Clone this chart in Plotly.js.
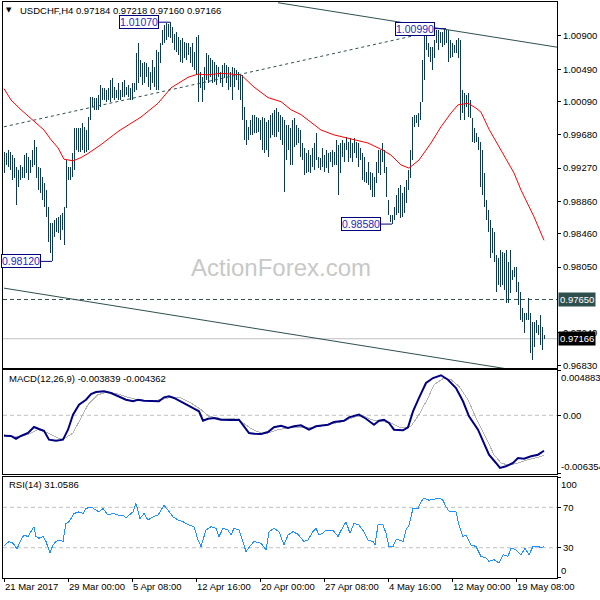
<!DOCTYPE html>
<html><head><meta charset="utf-8">
<script src="https://cdn.plot.ly/plotly-3.0.1.min.js"></script>
<style>html,body{margin:0;padding:0;background:#fff}#chart{width:600px;height:600px}
#chart .scatterlayer .trace:first-child path{shape-rendering:crispEdges !important}</style>
</head><body><div id="chart"></div>
<script>
// ---- data (bar index = H4 bar number) ----
const barHigh = [
0.9947,0.9946,0.9949,0.9947,0.9943,0.9940,0.9928,0.9925,0.9931,0.9928,
0.9943,0.9946,0.9941,0.9937,0.9949,0.9962,0.9953,0.9928,0.9927,0.9916,
0.9909,0.9900,0.9879,0.9859,0.9859,0.9863,0.9866,0.9867,0.9869,0.9872,
0.9879,0.9937,0.9928,0.9928,0.9946,0.9976,0.9976,0.9976,0.9976,0.9983,
0.9978,0.9974,0.9990,1.0015,1.0015,1.0013,1.0013,1.0017,1.0030,1.0026,
1.0026,1.0023,1.0026,1.0036,1.0038,1.0027,1.0023,1.0032,1.0023,1.0033,
1.0036,1.0027,1.0030,1.0026,1.0032,1.0032,1.0069,1.0081,1.0060,1.0057,
1.0058,1.0057,1.0052,1.0046,1.0060,1.0052,1.0073,1.0070,1.0081,1.0097,
1.0104,1.0106,1.0105,1.0107,1.0101,1.0093,1.0095,1.0089,1.0085,1.0088,
1.0083,1.0081,1.0081,1.0076,1.0081,1.0070,1.0089,1.0091,1.0046,1.0039,
1.0052,1.0069,1.0067,1.0063,1.0060,1.0058,1.0054,1.0052,1.0046,1.0054,
1.0057,1.0054,1.0052,1.0046,1.0052,1.0051,1.0048,1.0046,1.0042,1.0042,
1.0002,0.9986,0.9978,0.9986,0.9993,0.9993,0.9990,0.9989,0.9986,0.9990,
0.9989,0.9984,0.9986,0.9993,0.9995,0.9999,1.0001,0.9996,0.9993,0.9990,
0.9986,0.9980,0.9980,0.9976,0.9986,0.9989,0.9980,0.9976,0.9974,0.9958,
0.9952,0.9946,0.9949,0.9943,0.9952,0.9958,0.9970,0.9941,0.9940,0.9952,
0.9943,0.9949,0.9946,0.9947,0.9949,0.9947,0.9962,0.9956,0.9958,0.9962,
0.9958,0.9965,0.9959,0.9964,0.9958,0.9964,0.9959,0.9958,0.9952,0.9946,
0.9941,0.9922,0.9935,0.9922,0.9921,0.9916,0.9934,0.9949,0.9949,0.9958,
0.9949,0.9928,0.9888,0.9869,0.9869,0.9879,0.9894,0.9903,0.9906,0.9896,
0.9904,0.9912,0.9925,0.9949,0.9990,0.9993,0.9993,0.9995,1.0009,1.0060,
1.0094,1.0095,1.0081,1.0076,1.0076,1.0085,1.0097,1.0097,1.0095,1.0095,
1.0099,1.0099,1.0097,1.0085,1.0081,1.0079,1.0085,1.0088,1.0085,1.0023,
1.0020,1.0017,1.0020,1.0011,0.9989,0.9976,0.9970,0.9965,0.9959,0.9949,
0.9921,0.9888,0.9875,0.9863,0.9853,0.9848,0.9820,0.9816,0.9826,0.9824,
0.9822,0.9826,0.9811,0.9826,0.9801,0.9805,0.9805,0.9787,0.9774,0.9755,
0.9748,0.9748,0.9767,0.9748,0.9737,0.9737,0.9740,0.9733,0.9746,0.9731,
0.97218];
const barLow = [
0.9921,0.9931,0.9929,0.9925,0.9912,0.9915,0.9882,0.9904,0.9912,0.9915,
0.9915,0.9921,0.9912,0.9921,0.9928,0.9931,0.9915,0.9900,0.9896,0.9888,
0.9879,0.9867,0.9836,0.9822,0.9812,0.9842,0.9848,0.9847,0.9838,0.9851,
0.9832,0.9878,0.9912,0.9912,0.9916,0.9925,0.9949,0.9947,0.9947,0.9949,
0.9946,0.9947,0.9949,0.9986,1.0002,0.9999,0.9999,0.9999,1.0002,1.0011,
1.0011,1.0009,1.0011,1.0009,1.0013,1.0011,1.0013,1.0011,1.0011,1.0015,
1.0015,1.0017,1.0015,1.0011,1.0011,1.0021,1.0023,1.0032,1.0039,1.0030,
1.0032,1.0039,1.0027,1.0023,1.0032,1.0027,1.0023,1.0023,1.0057,1.0079,
1.0081,1.0085,1.0089,1.0088,1.0081,1.0073,1.0070,1.0067,1.0058,1.0057,
1.0063,1.0060,1.0067,1.0057,1.0052,1.0048,1.0042,1.0009,1.0026,1.0009,
1.0023,1.0036,1.0032,1.0039,1.0032,1.0033,1.0030,1.0039,1.0032,1.0027,
1.0038,1.0032,1.0023,1.0027,1.0011,1.0027,1.0036,1.0023,1.0011,0.9986,
0.9962,0.9956,0.9962,0.9968,0.9968,0.9970,0.9970,0.9972,0.9962,0.9949,
0.9946,0.9949,0.9941,0.9964,0.9968,0.9965,0.9965,0.9972,0.9962,0.9956,
0.9898,0.9937,0.9949,0.9931,0.9931,0.9953,0.9956,0.9958,0.9941,0.9937,
0.9918,0.9921,0.9922,0.9921,0.9928,0.9925,0.9937,0.9927,0.9925,0.9928,
0.9922,0.9927,0.9921,0.9934,0.9928,0.9931,0.9931,0.9894,0.9921,0.9941,
0.9935,0.9949,0.9934,0.9940,0.9934,0.9946,0.9940,0.9928,0.9937,0.9912,
0.9910,0.9909,0.9906,0.9900,0.9891,0.9891,0.9909,0.9921,0.9918,0.9935,
0.9921,0.9891,0.9869,0.9861,0.9858,0.9863,0.9869,0.9872,0.9865,0.9867,
0.9872,0.9884,0.9900,0.9915,0.9937,0.9978,0.9983,0.9978,0.9986,1.0008,
1.0036,1.0073,1.0064,1.0058,1.0048,1.0063,1.0081,1.0073,1.0081,1.0076,
1.0079,1.0081,1.0058,1.0063,1.0064,1.0069,1.0069,1.0063,0.9986,0.9995,
0.9986,1.0002,0.9990,0.9989,0.9959,0.9958,0.9959,0.9949,0.9904,0.9894,
0.9879,0.9863,0.9848,0.9816,0.9822,0.9811,0.9774,0.9783,0.9781,0.9783,
0.9777,0.9761,0.9761,0.9773,0.9789,0.9793,0.9774,0.9758,0.9740,0.9737,
0.9724,0.9740,0.9740,0.9699,0.9690,0.9706,0.9724,0.9721,0.9709,0.9703,
0.97160];

const maIdx = [0,3.5,8.5,15,20,23.5,27,30,34.5,38.5,42,48.5,53.5,57.5,68.5,77,83.5,92,97,102,
108.5,115,118.5,125,132,138.5,143.5,148.5,158.5,165,173.5,182,189.5,193.5,198.5,202.5,207.5,213.5,218.5,223.5,
227,232,236,238.5,242.5,248.5,255,258.5,265,270];
const maVal = [1.0025,1.0011,0.9999,0.9985,0.9974,0.9962,0.9952,0.9938,0.9936,0.9940,0.9945,0.9956,0.9966,0.9973,0.9990,1.0007,1.0026,1.0039,1.0043,1.0042,
1.0044,1.0043,1.0042,1.0027,1.0014,1.0009,0.9999,0.9993,0.9974,0.9968,0.9963,0.9958,0.9949,0.9943,0.9931,0.9927,0.9937,0.9958,0.9978,0.9995,
1.0005,1.0007,1.0001,0.9996,0.9975,0.9949,0.9921,0.9900,0.9867,0.9838];

const macdIdx = [0,3.5,6,8.5,12,15,17.5,20,22.5,26,29.5,32,34.5,37.5,41,43.5,46,50,53.5,57,
61,64.5,67,70,75,77.5,80,82.5,85,88.5,92,95,97.5,99.5,102,105,108.5,113.5,117.5,120,
122.5,125,128.5,132,135,138.5,142,145,148.5,152.5,156,162,165,170,172.5,177.5,181,185,187.5,190,
192.5,195,199.5,202,204.5,207.5,211,214.5,218.5,222,226,229.5,232.5,237,240,242.5,246,248,251,254.5,
257,260,263.5,267,270];
const macdVal = [-0.00221,-0.00224,-0.00254,-0.00224,-0.00192,-0.00127,-0.00149,-0.00167,-0.00264,-0.00275,
-0.00264,-0.00156,0.00007,0.00115,0.00169,0.00231,0.00253,0.00260,0.00242,0.00206,
0.00169,0.00152,0.00169,0.00158,0.00152,0.00152,0.00195,0.00206,0.00188,0.00152,
0.00108,0.00072,0.00043,-0.00059,-0.00037,-0.00029,-0.00048,-0.00051,-0.00048,-0.00119,
-0.00192,-0.00199,-0.00203,-0.00181,-0.00130,-0.00113,-0.00138,-0.00119,-0.00108,-0.00156,
-0.00119,-0.00102,-0.00073,-0.00059,-0.00022,0.00007,-0.00037,-0.00102,-0.00059,-0.00048,
-0.00083,-0.00156,-0.00163,-0.00130,0.00043,0.00188,0.00350,0.00404,0.00434,0.00386,
0.00296,0.00152,-0.00011,-0.00156,-0.00300,-0.00427,-0.00517,-0.00571,-0.00553,-0.00517,
-0.00463,-0.00470,-0.00444,-0.00427,-0.003839];
const sigIdx = [0,5,12,17,22,27,30,34.5,38.5,42,47,52,57,62,67,73.5,78.5,83.5,88.5,93.5,
98.5,102.5,107,115,118.5,123.5,128.5,132,137,142,148.5,155,162,168.5,175,179.5,183.5,188.5,193.5,198.5,
203.5,207.5,212,215,219.5,223.5,227.5,232,236,241,245,248.5,252.5,257,262,267,270];
const sigVal = [-0.00210,-0.00238,-0.00210,-0.00156,-0.00192,-0.00246,-0.00254,-0.00192,-0.00029,0.00115,
0.00223,0.00253,0.00231,0.00195,0.00169,0.00158,0.00169,0.00195,0.00188,0.00133,
0.00061,-0.00011,-0.00029,-0.00037,-0.00065,-0.00145,-0.00192,-0.00192,-0.00156,-0.00138,
-0.00130,-0.00130,-0.00102,-0.00073,-0.00022,0,-0.00048,-0.00065,-0.00083,-0.00138,
-0.00119,0.00007,0.00188,0.00332,0.00397,0.00386,0.00314,0.00169,-0.00029,-0.00246,
-0.00427,-0.00517,-0.00542,-0.00517,-0.00481,-0.00455,-0.004362];

const rsiIdx = [0,2.5,4.5,6.5,8.5,10,12,14.5,15,16,17.5,19.5,21,23,24.5,26,27.5,29.5,31,32.5,
35,37.5,39.5,41,43.5,46,47.5,49.5,52,54.5,57,59.5,61,64.5,66,68,70,72,74.5,77,
78.5,80,82,84.5,87,89.5,92.5,95,97,98.5,101,103.5,106,107.5,109.5,112,113.5,115,117.5,119.5,
121,123.5,125,128.5,131,132.5,135,137.5,140,142,144.5,147,148.5,150,152,154.5,156,157.5,159.5,161,
164.5,167,169.5,171,173,175,177.5,180,182,184.5,185.5,187,189.5,191,192.5,194.5,196,197.5,199.5,201,
202.5,204.5,207,208.5,210,212.5,215,217.5,219.5,221,222.5,226,227.5,229.5,231,233.5,236,238.5,241,242.5,
245,247.5,249.5,252,253.5,256,258.5,260.5,262.5,264.5,267,268.5,270];
const rsiVal = [31.9,36.1,34.5,28.9,37.7,42.6,41.0,49.2,50.8,41.0,39.4,41.0,36.1,24.7,32.8,36.1,37.7,36.1,54.1,55.7,
63.9,65.5,63.9,68.8,70.4,67.2,65.5,68.8,62.3,63.9,62.3,62.3,59.6,65.5,73.7,59.0,63.9,57.4,60.6,62.3,
67.2,72.1,67.2,60.6,57.4,55.7,52.5,50.8,37.7,31.2,47.5,50.8,49.2,41.0,49.2,47.5,42.6,49.2,47.5,36.1,
26.3,32.8,36.1,34.5,27.9,45.9,49.2,45.9,32.8,42.6,45.9,43.3,39.4,36.1,37.7,45.9,49.2,42.6,44.3,47.5,
47.5,41.0,50.8,55.7,44.3,54.1,52.5,45.9,37.7,36.1,32.8,52.5,52.5,44.3,31.2,31.2,37.7,37.7,36.1,47.5,
52.5,68.8,68.8,75.3,79.2,77.0,77.9,79.2,77.0,70.4,66.2,65.5,52.5,41.0,42.6,32.8,31.2,21.4,19.8,16.5,
18.1,14.9,23.0,21.4,29.6,27.9,23.0,29.6,23.0,31.2,31.2,30.2,31.0586];

const timeTickIdx = [0,32,64,96,128,160,192,224,256];
const timeTickText = ['21 Mar 2017','29 Mar 00:00','5 Apr 08:00','12 Apr 16:00','20 Apr 00:00','27 Apr 08:00','4 May 16:00','12 May 00:00','19 May 08:00'];
const priceTicks = [1.00900,1.00490,1.00090,0.99680,0.99270,0.98860,0.98460,0.98050,0.97240,0.96830];
const markIdx = [83,221,194,24];
const markPrice = [1.01070,1.00990,0.98580,0.98120];
const levelPrice = 0.97650;
const quote = [0.97184,0.97218,0.97160,0.97166];
const trendUpperIdx = [137,277], trendUpperVal = [1.0131,1.0076];
const trendLowerIdx = [0,250], trendLowerVal = [0.9779,0.9680];
const trendDotIdx = [0,213.5], trendDotVal = [0.9978,1.0095];
const macdMax = 0.004883, macdMin = -0.006354;

// ---- build ----
const bx = [], by = [];
barHigh.forEach((h,i)=>{ bx.push(i,i,null); by.push(barLow[i],h,null); });
const lastClose = quote[3];

const traces = [
 {x:bx,y:by,mode:'lines',line:{color:'#0c3a50',width:1},xaxis:'x',yaxis:'y',hoverinfo:'skip'},
 {x:maIdx,y:maVal,mode:'lines',line:{color:'#ff0000',width:1},xaxis:'x',yaxis:'y'},
 {x:trendUpperIdx,y:trendUpperVal,mode:'lines',line:{color:'#2f4f4f',width:1},xaxis:'x',yaxis:'y'},
 {x:trendLowerIdx,y:trendLowerVal,mode:'lines',line:{color:'#2f4f4f',width:1},xaxis:'x',yaxis:'y'},
 {x:trendDotIdx,y:trendDotVal,mode:'lines',line:{color:'#2f4f4f',width:1,dash:'3px,3px'},xaxis:'x',yaxis:'y'},
 {x:sigIdx,y:sigVal,mode:'lines',line:{color:'#b4b4b4',width:1},xaxis:'x2',yaxis:'y2'},
 {x:macdIdx,y:macdVal,mode:'lines',line:{color:'#000080',width:2},xaxis:'x2',yaxis:'y2'},
 {x:rsiIdx,y:rsiVal,mode:'lines',line:{color:'#1e90ff',width:1},xaxis:'x3',yaxis:'y3'}
];

const ax = {showline:true,mirror:true,linecolor:'#000',linewidth:1,showgrid:false,zeroline:false,fixedrange:true};
const yTick = {side:'right',ticks:'outside',ticklen:3,tickcolor:'#000',tickfont:{size:9.5}};
const P = v=>v.toFixed(5);

const annotations = [
 {xref:'paper',yref:'paper',x:0.0117,y:0.9861,text:'▼',showarrow:false,font:{family:'DejaVu Sans',size:7,color:'#000'},xanchor:'center',yanchor:'middle'},
 {xref:'paper',yref:'paper',x:0.027,y:0.9861,text:'USDCHF,H4 '+quote.map(P).join(' '),showarrow:false,xanchor:'left',yanchor:'middle',font:{size:9.5,color:'#000'}},
 {xref:'paper',yref:'paper',x:0.0072,y:0.3472,text:'MACD(12,26,9) '+macdVal[macdVal.length-1].toFixed(6)+' '+sigVal[sigVal.length-1].toFixed(6),showarrow:false,xanchor:'left',yanchor:'middle',font:{size:9.5,color:'#000'}},
 {xref:'paper',yref:'paper',x:0.0072,y:0.1615,text:'RSI(14) '+rsiVal[rsiVal.length-1].toFixed(4),showarrow:false,xanchor:'left',yanchor:'middle',font:{size:9.5,color:'#000'}},
 {xref:'paper',yref:'paper',x:0.5018,y:0.5382,text:'ActionForex.com',showarrow:false,xanchor:'center',yanchor:'middle',font:{size:24,color:'#c8c8c8'}},
 {xref:'paper',yref:'y',x:1,y:levelPrice,xanchor:'left',xshift:1,text:P(levelPrice),showarrow:false,bgcolor:'#2f4f4f',borderpad:1,font:{size:9.5,color:'#ffffff'}},
 {xref:'paper',yref:'y',x:1,y:lastClose,xanchor:'left',xshift:1,text:P(lastClose),showarrow:false,bgcolor:'#000000',borderpad:1,font:{size:9.5,color:'#ffffff'}},
 {xref:'paper',yref:'y2',x:1,y:macdMax,xanchor:'left',yanchor:'top',xshift:2,text:macdMax.toFixed(6),showarrow:false,font:{size:9.5,color:'#000'}},
 {xref:'paper',yref:'y2',x:1,y:macdMin,xanchor:'left',yanchor:'bottom',xshift:2,text:macdMin.toFixed(6),showarrow:false,font:{size:9.5,color:'#000'}},
 {xref:'paper',yref:'y3',x:1,y:100,xanchor:'left',yanchor:'top',xshift:2,text:'100',showarrow:false,font:{size:9.5,color:'#000'}},
 {xref:'paper',yref:'y3',x:1,y:0,xanchor:'left',yanchor:'bottom',xshift:2,text:'0',showarrow:false,font:{size:9.5,color:'#000'}}
];
markIdx.forEach((ix,k)=>annotations.push({
 xref:'x',yref:'y',x:ix,y:markPrice[k],text:P(markPrice[k]),showarrow:true,arrowhead:0,arrowwidth:1,
 arrowcolor:'#00007f',ax:-31,ay:0,bordercolor:'#00007f',borderwidth:1,borderpad:0,bgcolor:'#ffffff',
 font:{size:10.5,color:'#2626c0'}}));

const shapes = [
 {type:'line',xref:'paper',x0:0,x1:1,yref:'y',y0:lastClose,y1:lastClose,line:{color:'#c0c0c0',width:1},layer:'below'},
 {type:'line',xref:'paper',x0:0,x1:1,yref:'y',y0:levelPrice,y1:levelPrice,line:{color:'#2f4f4f',width:1,dash:'4px,3px'},layer:'below'},
 {type:'line',xref:'paper',x0:0,x1:1,yref:'y2',y0:0,y1:0,line:{color:'#c0c0c0',width:1,dash:'4px,3px'},layer:'below'},
 {type:'line',xref:'paper',x0:0,x1:1,yref:'y3',y0:70,y1:70,line:{color:'#c0c0c0',width:1,dash:'4px,3px'},layer:'below'},
 {type:'line',xref:'paper',x0:0,x1:1,yref:'y3',y0:30,y1:30,line:{color:'#c0c0c0',width:1,dash:'4px,3px'},layer:'below'}
];

const layout = {
 width:600,height:600,margin:{l:3,r:43,t:2,b:22},paper_bgcolor:'#fff',plot_bgcolor:'#fff',showlegend:false,
 font:{family:'Liberation Sans, Arial, sans-serif',size:9.5,color:'#000'},
 xaxis:{...ax,domain:[0,1],range:[-0.5,276.5],anchor:'y',showticklabels:false,ticks:''},
 xaxis2:{...ax,matches:'x',anchor:'y2',showticklabels:false,ticks:''},
 xaxis3:{...ax,matches:'x',anchor:'y3',tickvals:timeTickIdx,ticktext:timeTickText,ticks:'outside',ticklen:3,tickcolor:'#000',ticklabelposition:'outside right',tickangle:0,tickfont:{size:9.5}},
 yaxis:{...ax,...yTick,domain:[0.3646,1],range:[0.96805,1.01319],anchor:'x',tickvals:priceTicks,ticktext:priceTicks.map(P)},
 yaxis2:{...ax,...yTick,domain:[0.1806,0.3611],range:[-0.00636,0.00491],anchor:'x2',tickvals:[macdMax,0,macdMin],ticktext:['','0.00','']},
 yaxis3:{...ax,...yTick,domain:[0,0.1753],range:[0,100],anchor:'x3',tickvals:[100,70,30,0],ticktext:['','70','30','']},
 annotations:annotations,shapes:shapes
};
Plotly.newPlot('chart',traces,layout,{displayModeBar:false,staticPlot:true});
</script></body></html>
